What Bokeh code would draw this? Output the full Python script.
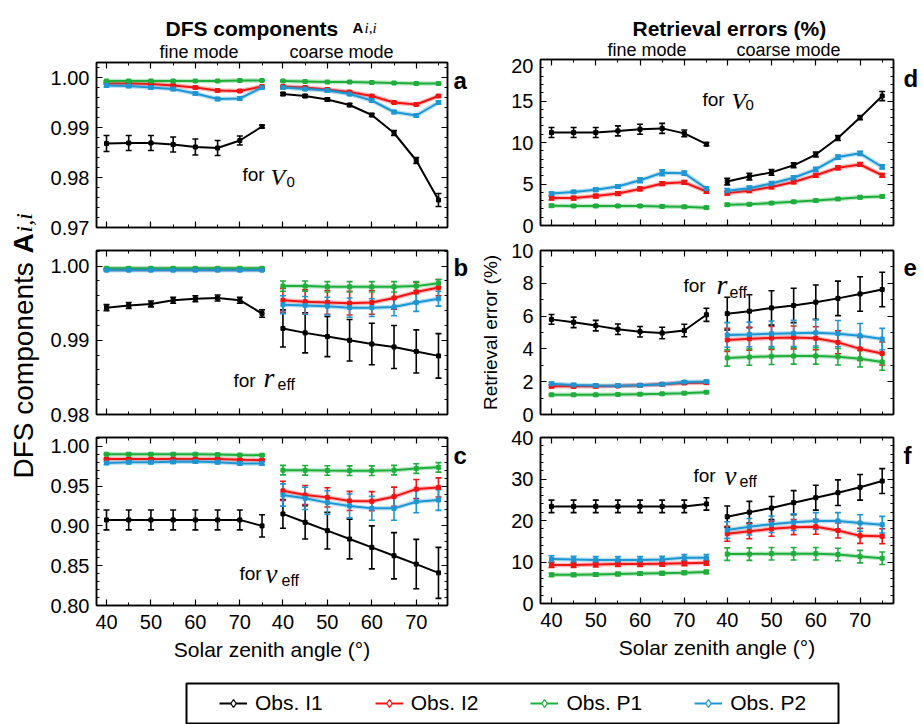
from math import pi
from bokeh.plotting import figure
from bokeh.layouts import row, column
from bokeh.models import (Range1d, FixedTicker, LinearAxis, Label, Whisker, TeeHead,
                          ColumnDataSource, CustomJSTickFormatter, PrintfTickFormatter,
                          Legend, LegendItem)
from bokeh.embed import file_html
from bokeh.resources import INLINE

# ---------------------------------------------------------------- data
SZA = [40, 45, 50, 55, 60, 65, 70, 75]
COARSE_SHIFT = 39.7            # x offset of the coarse-mode block
SERIES = ["Obs. I1", "Obs. I2", "Obs. P1", "Obs. P2"]
COLORS = ["#000000", "#f01414", "#1fae3c", "#1e96d2"]

# panel a : DFS for V0
A_I1_F = [0.9868, 0.9869, 0.9869, 0.9866, 0.9861, 0.9859, 0.9874, 0.9902]
A_I1_F_E = [0.0016, 0.0015, 0.0015, 0.0015, 0.0016, 0.0015, 0.0009, 0.0003]
A_I1_C = [0.9967, 0.9963, 0.9956, 0.9945, 0.9925, 0.9889, 0.9834, 0.9755]
A_I1_C_E = [0.0003, 0.0003, 0.0003, 0.0003, 0.0003, 0.0005, 0.0006, 0.0013]
A_I2_F = [0.9988, 0.9988, 0.9987, 0.9984, 0.9980, 0.9974, 0.9973, 0.9982]
A_I2_C = [0.9982, 0.9980, 0.9976, 0.9971, 0.9963, 0.9950, 0.9946, 0.9963]
A_I2_E = [0.0002] * 8
A_P1_F = [0.9993, 0.9993, 0.9993, 0.9993, 0.9993, 0.9993, 0.9994, 0.9994]
A_P1_C = [0.9993, 0.9992, 0.9991, 0.9991, 0.9990, 0.9989, 0.9988, 0.9988]
A_P1_E = [0.0001] * 8
A_P2_F = [0.9984, 0.9983, 0.9980, 0.9977, 0.9968, 0.9957, 0.9958, 0.9980]
A_P2_C = [0.9980, 0.9977, 0.9974, 0.9967, 0.9954, 0.9931, 0.9924, 0.9950]
A_P2_E = [0.0003] * 8

# panel b : DFS for r_eff
B_I1_F = [0.9944, 0.9947, 0.9949, 0.9954, 0.9956, 0.9957, 0.9954, 0.9936]
B_I1_F_E = [0.0004, 0.0004, 0.0004, 0.0004, 0.0004, 0.0004, 0.0004, 0.0005]
B_I1_C = [0.9916, 0.9910, 0.9905, 0.9900, 0.9895, 0.9891, 0.9885, 0.9879]
B_I1_C_E = [0.0025, 0.0027, 0.0027, 0.0028, 0.0028, 0.0029, 0.0029, 0.0030]
B_I2_F = [0.99955] * 8
B_I2_F_E = [0.0001] * 8
B_I2_C = [0.9954, 0.9952, 0.9951, 0.9950, 0.9951, 0.9957, 0.9965, 0.9971]
B_I2_C_E = [0.0016, 0.0016, 0.0016, 0.0016, 0.0016, 0.0015, 0.0013, 0.0011]
B_P1_F = [0.9997] * 8
B_P1_F_E = [0.0001] * 8
B_P1_C = [0.9973, 0.9973, 0.9972, 0.9972, 0.9972, 0.9972, 0.9973, 0.9977]
B_P1_C_E = [0.0007, 0.0007, 0.0007, 0.0007, 0.0007, 0.0007, 0.0006, 0.0005]
B_P2_F = [0.99945] * 8
B_P2_F_E = [0.0001] * 8
B_P2_C = [0.9948, 0.9947, 0.9946, 0.9944, 0.9944, 0.9945, 0.9951, 0.9956]
B_P2_C_E = [0.0012, 0.0012, 0.0012, 0.0013, 0.0012, 0.0012, 0.0012, 0.0010]

# panel c : DFS for v_eff
C_I1_F = [0.9075, 0.9075, 0.9075, 0.9075, 0.9075, 0.9075, 0.9075, 0.900]
C_I1_F_E = [0.0125, 0.0125, 0.0125, 0.0125, 0.0125, 0.0125, 0.0125, 0.014]
C_I1_C = [0.915, 0.9045, 0.894, 0.8835, 0.873, 0.8625, 0.852, 0.841]
C_I1_C_E = [0.018, 0.021, 0.023, 0.025, 0.027, 0.029, 0.031, 0.032]
C_I2_F = [0.984, 0.984, 0.984, 0.984, 0.984, 0.984, 0.983, 0.9825]
C_I2_F_E = [0.001] * 8
C_I2_C = [0.944, 0.9387, 0.9358, 0.9313, 0.931, 0.9367, 0.9462, 0.9483]
C_I2_C_E = [0.012] * 8
C_P1_F = [0.990, 0.990, 0.990, 0.990, 0.990, 0.9895, 0.989, 0.9888]
C_P1_F_E = [0.001] * 8
C_P1_C = [0.970, 0.9698, 0.9695, 0.9693, 0.9693, 0.970, 0.972, 0.9735]
C_P1_C_E = [0.006] * 8
C_P2_F = [0.979, 0.980, 0.980, 0.9805, 0.981, 0.980, 0.9785, 0.9785]
C_P2_F_E = [0.002] * 8
C_P2_C = [0.9388, 0.9346, 0.9292, 0.925, 0.922, 0.922, 0.9304, 0.9325]
C_P2_C_E = [0.014, 0.014, 0.015, 0.015, 0.015, 0.015, 0.014, 0.013]

# panel d : retrieval error (%) for V0
D_I1_F = [11.2, 11.2, 11.2, 11.4, 11.6, 11.7, 11.1, 9.8]
D_I1_F_E = [0.6, 0.6, 0.6, 0.6, 0.6, 0.6, 0.4, 0.2]
D_I1_C = [5.3, 5.9, 6.4, 7.25, 8.55, 10.55, 13.0, 15.6]
D_I1_C_E = [0.4, 0.4, 0.35, 0.3, 0.3, 0.3, 0.25, 0.55]
D_I2_F = [3.3, 3.3, 3.55, 3.85, 4.4, 5.05, 5.2, 4.1]
D_I2_C = [3.9, 4.2, 4.65, 5.25, 6.05, 6.95, 7.35, 6.05]
D_I2_E = [0.22] * 8
D_P1_F = [2.38, 2.35, 2.35, 2.35, 2.35, 2.3, 2.25, 2.15]
D_P1_C = [2.5, 2.55, 2.7, 2.85, 3.0, 3.2, 3.4, 3.5]
D_P1_E = [0.13] * 8
D_P2_F = [3.85, 4.05, 4.3, 4.7, 5.45, 6.35, 6.3, 4.45]
D_P2_F_E = [0.15, 0.15, 0.2, 0.2, 0.3, 0.35, 0.25, 0.2]
D_P2_C = [4.2, 4.5, 5.05, 5.75, 6.75, 8.25, 8.7, 7.05]
D_P2_C_E = [0.25] * 8

# panel e : retrieval error (%) for r_eff
E_I1_F = [5.8, 5.62, 5.42, 5.2, 5.05, 4.97, 5.12, 6.08]
E_I1_F_E = [0.3, 0.32, 0.32, 0.32, 0.32, 0.35, 0.38, 0.4]
E_I1_C = [6.15, 6.3, 6.5, 6.65, 6.85, 7.08, 7.35, 7.62]
E_I1_C_E = [1.0, 1.0, 1.05, 1.05, 1.05, 1.05, 1.05, 1.05]
E_I2_F = [1.72, 1.72, 1.72, 1.74, 1.78, 1.84, 1.92, 1.94]
E_I2_F_E = [0.08] * 8
E_I2_C = [4.55, 4.62, 4.67, 4.7, 4.65, 4.4, 4.0, 3.72]
E_I2_C_E = [0.7] * 8
E_P1_F = [1.2, 1.2, 1.2, 1.22, 1.24, 1.26, 1.3, 1.36]
E_P1_F_E = [0.05] * 8
E_P1_C = [3.45, 3.5, 3.55, 3.57, 3.57, 3.52, 3.4, 3.2]
E_P1_C_E = [0.5] * 8
E_P2_F = [1.88, 1.8, 1.77, 1.76, 1.78, 1.85, 1.98, 2.0]
E_P2_F_E = [0.08] * 8
E_P2_C = [4.85, 4.88, 4.92, 4.95, 4.98, 4.93, 4.8, 4.6]
E_P2_C_E = [0.75, 0.75, 0.78, 0.8, 0.8, 0.8, 0.75, 0.65]

# panel f : retrieval error (%) for v_eff
F_I1_F = [23.4, 23.4, 23.4, 23.4, 23.4, 23.4, 23.4, 24.0]
F_I1_F_E = [1.5] * 8
F_I1_C = [20.9, 22.0, 23.0, 24.3, 25.5, 26.7, 28.0, 29.5]
F_I1_C_E = [2.6, 2.6, 2.8, 2.9, 3.0, 3.1, 3.1, 3.0]
F_I2_F = [9.3, 9.3, 9.4, 9.5, 9.5, 9.6, 9.7, 9.8]
F_I2_F_E = [0.6] * 8
F_I2_C = [16.8, 17.4, 18.0, 18.4, 18.5, 17.6, 16.3, 16.2]
F_I2_C_E = [1.8] * 8
F_P1_F = [6.9, 6.9, 7.0, 7.1, 7.2, 7.3, 7.4, 7.6]
F_P1_F_E = [0.4] * 8
F_P1_C = [11.9, 11.9, 12.0, 12.0, 12.0, 11.8, 11.3, 10.9]
F_P1_C_E = [1.5] * 8
F_P2_F = [10.7, 10.6, 10.5, 10.5, 10.5, 10.6, 11.0, 11.0]
F_P2_F_E = [0.8] * 8
F_P2_C = [17.7, 18.5, 19.1, 19.6, 19.9, 19.9, 19.4, 19.0]
F_P2_C_E = [2.0] * 8

# y tick definitions
A_TICKS = [0.97, 0.98, 0.99, 1.00]
B_TICKS = [0.98, 0.99, 1.00]
C_TICKS = [0.80, 0.85, 0.90, 0.95, 1.00]
D_TICKS = [0, 5, 10, 15, 20]
E_TICKS = [0, 2, 4, 6, 8, 10]
F_TICKS = [0, 10, 20, 30, 40]

PANEL_DATA = {
    "a": [(A_I1_F, A_I1_F_E, A_I1_C, A_I1_C_E), (A_I2_F, A_I2_E, A_I2_C, A_I2_E),
          (A_P1_F, A_P1_E, A_P1_C, A_P1_E), (A_P2_F, A_P2_E, A_P2_C, A_P2_E)],
    "b": [(B_I1_F, B_I1_F_E, B_I1_C, B_I1_C_E), (B_I2_F, B_I2_F_E, B_I2_C, B_I2_C_E),
          (B_P1_F, B_P1_F_E, B_P1_C, B_P1_C_E), (B_P2_F, B_P2_F_E, B_P2_C, B_P2_C_E)],
    "c": [(C_I1_F, C_I1_F_E, C_I1_C, C_I1_C_E), (C_I2_F, C_I2_F_E, C_I2_C, C_I2_C_E),
          (C_P1_F, C_P1_F_E, C_P1_C, C_P1_C_E), (C_P2_F, C_P2_F_E, C_P2_C, C_P2_C_E)],
    "d": [(D_I1_F, D_I1_F_E, D_I1_C, D_I1_C_E), (D_I2_F, D_I2_E, D_I2_C, D_I2_E),
          (D_P1_F, D_P1_E, D_P1_C, D_P1_E), (D_P2_F, D_P2_F_E, D_P2_C, D_P2_C_E)],
    "e": [(E_I1_F, E_I1_F_E, E_I1_C, E_I1_C_E), (E_I2_F, E_I2_F_E, E_I2_C, E_I2_C_E),
          (E_P1_F, E_P1_F_E, E_P1_C, E_P1_C_E), (E_P2_F, E_P2_F_E, E_P2_C, E_P2_C_E)],
    "f": [(F_I1_F, F_I1_F_E, F_I1_C, F_I1_C_E), (F_I2_F, F_I2_F_E, F_I2_C, F_I2_C_E),
          (F_P1_F, F_P1_F_E, F_P1_C, F_P1_C_E), (F_P2_F, F_P2_F_E, F_P2_C, F_P2_C_E)],
}

SANS = "Liberation Sans"
SERIF = "Liberation Serif"

# ---------------------------------------------------------------- layout geometry
HEADER_L_H = 60
HEADER_R_H = 58
BODY_H = 672
LEGEND_H = 52
LEFT_X = (37.75, 116.73)
RIGHT_X = (37.52, 117.25)
GEOM = {
    "a": dict(fw=411, fh=178, L=56, R=4, T=2, B=11, ax=96, ay=62, yr=(0.97, 1.003), xr=LEFT_X,
              ticks=A_TICKS, minor=0.002, fmt="%.2f"),
    "b": dict(fw=411, fh=187, L=56, R=4, T=12, B=11, ax=96, ay=250, yr=(0.98, 1.0021), xr=LEFT_X,
              ticks=B_TICKS, minor=0.002, fmt="%.2f"),
    "c": dict(fw=411, fh=247, L=56, R=4, T=12, B=67, ax=96, ay=437, yr=(0.80, 1.011), xr=LEFT_X,
              ticks=C_TICKS, minor=0.01, fmt="%.2f"),
    "d": dict(fw=425, fh=180, L=68, R=4, T=1, B=13, ax=540, ay=59, yr=(0, 20), xr=RIGHT_X,
              ticks=D_TICKS, minor=1, fmt="%d"),
    "e": dict(fw=425, fh=187, L=68, R=4, T=12, B=11, ax=540, ay=250, yr=(0, 10), xr=RIGHT_X,
              ticks=E_TICKS, minor=1, fmt="%d"),
    "f": dict(fw=425, fh=247, L=68, R=4, T=12, B=69, ax=540, ay=437, yr=(0, 40), xr=RIGHT_X,
              ticks=F_TICKS, minor=2, fmt="%d"),
}


def to_data(g, px, py):
    W = g["fw"] - g["L"] - g["R"]
    H = g["fh"] - g["T"] - g["B"]
    x0, x1 = g["xr"]
    y0, y1 = g["yr"]
    return (x0 + (px - g["ax"]) / W * (x1 - x0), y1 - (py - g["ay"]) / H * (y1 - y0))


def add_text(p, g, px, py, text, size, font=SANS, style="normal", align="left"):
    x, y = to_data(g, px, py)
    p.add_layout(Label(x=x, y=y, text=text, text_font=font, text_font_size=f"{size}px",
                       text_font_style=style, text_baseline="alphabetic", text_align=align,
                       text_color="black"))


COARSE_X = [s + COARSE_SHIFT for s in SZA]
X_MAJOR = [40, 50, 60, 70] + [v + COARSE_SHIFT for v in [40, 50, 60, 70]]
X_MINOR = [45, 55, 65, 75] + [v + COARSE_SHIFT for v in [45, 55, 65, 75]]


def hide_labels(ax):
    ax.major_label_text_color = None
    ax.major_label_text_font_size = "1px"
    ax.major_label_standoff = 0


def make_panel(key, show_x_labels=False, ylabel=None):
    g = GEOM[key]
    p = figure(width=g["fw"], height=g["fh"], x_range=Range1d(*g["xr"]), y_range=Range1d(*g["yr"]),
               output_backend="svg", toolbar_location=None,
               min_border_left=g["L"], min_border_right=g["R"],
               min_border_top=g["T"], min_border_bottom=g["B"])
    p.add_layout(LinearAxis(), "above")
    p.add_layout(LinearAxis(), "right")
    p.grid.visible = False
    p.outline_line_color = "black"
    p.outline_line_width = 1.5
    y0, y1 = g["yr"]
    nmin = int(round((y1 - g["ticks"][0]) / g["minor"])) + 1
    ymin = [round(g["ticks"][0] + i * g["minor"], 5) for i in range(nmin)]
    xt = FixedTicker(ticks=X_MAJOR, minor_ticks=X_MINOR)
    yt = FixedTicker(ticks=g["ticks"], minor_ticks=ymin)
    for ax in p.xaxis:
        ax.ticker = xt
        ax.formatter = CustomJSTickFormatter(
            args=dict(shift=COARSE_SHIFT),
            code="var t = tick > 77 ? tick - shift : tick; return Math.round(t).toString();")
    for ax in p.yaxis:
        ax.ticker = yt
        ax.formatter = PrintfTickFormatter(format=g["fmt"])
    for ax in list(p.xaxis) + list(p.yaxis):
        ax.axis_line_color = "black"
        ax.axis_line_width = 1.5
        ax.major_tick_in = 6
        ax.major_tick_out = 0
        ax.minor_tick_in = 3
        ax.minor_tick_out = 0
        ax.major_tick_line_width = 1.2
        ax.minor_tick_line_width = 1.0
        ax.major_label_text_font = SANS
        ax.major_label_text_font_size = "20px"
        ax.major_label_text_color = "black"
        ax.major_label_standoff = 7
    hide_labels(p.above[0])
    hide_labels(p.right[0])
    if not show_x_labels:
        hide_labels(p.below[0])
    else:
        ax = p.below[0]
        ax.major_label_standoff = 9
        ax.axis_label = "Solar zenith angle (°)"
        ax.axis_label_text_font = SANS
        ax.axis_label_text_font_size = "21px"
        ax.axis_label_text_font_style = "normal"
        ax.axis_label_text_color = "black"
        ax.axis_label_standoff = 6
    if ylabel:
        ax = p.left[0]
        ax.axis_label = ylabel
        ax.axis_label_text_font = SANS
        ax.axis_label_text_font_size = "19px"
        ax.axis_label_text_font_style = "normal"
        ax.axis_label_text_color = "black"
        ax.axis_label_standoff = 7

    for (fv, fe, cv, ce), color in zip(PANEL_DATA[key], COLORS):
        for xs, vals, errs in ((SZA, fv, fe), (COARSE_X, cv, ce)):
            src = ColumnDataSource(dict(x=xs, y=vals,
                                        lo=[v - e for v, e in zip(vals, errs)],
                                        hi=[v + e for v, e in zip(vals, errs)]))
            p.add_layout(Whisker(source=src, base="x", lower="lo", upper="hi",
                                 line_color=color, line_width=1.6,
                                 upper_head=TeeHead(size=6, line_color=color, line_width=1.6),
                                 lower_head=TeeHead(size=6, line_color=color, line_width=1.6)))
            if color != "#000000":
                p.line("x", "y", source=src, line_color=color, line_width=4.5, line_alpha=0.3)
            p.line("x", "y", source=src, line_color=color, line_width=2)
            p.scatter("x", "y", source=src, marker="square", size=4, color=color)
    return p


fa = make_panel("a")
fb = make_panel("b")
fc = make_panel("c", show_x_labels=True)
fd = make_panel("d")
fe = make_panel("e", ylabel="Retrieval error (%)")
ff = make_panel("f", show_x_labels=True)

ga, gb, gc, gd, ge, gf = (GEOM[k] for k in "abcdef")
# "for ..." annotations inside the frames
add_text(fa, ga, 242, 174, "for", 19)
add_text(fa, ga, 270, 176, "V", 24, font=SERIF, style="italic")
add_text(fa, ga, 286, 181, "0", 15)
add_text(fd, gd, 702, 99, "for", 19)
add_text(fd, gd, 731, 100, "V", 24, font=SERIF, style="italic")
add_text(fd, gd, 745, 104, "0", 15)
add_text(fb, gb, 233, 380, "for", 19)
add_text(fb, gb, 263, 377, "r", 28, font=SERIF, style="italic")
add_text(fb, gb, 277, 384, "eff", 16)
add_text(fe, ge, 683, 285, "for", 19)
add_text(fe, ge, 716, 284, "r", 28, font=SERIF, style="italic")
add_text(fe, ge, 729, 292, "eff", 16)
add_text(fc, gc, 239, 573, "for", 19)
add_text(fc, gc, 265, 573, "ν", 27, font=SERIF, style="italic")
add_text(fc, gc, 281, 580, "eff", 16)
add_text(ff, gf, 693, 475, "for", 19)
add_text(ff, gf, 724, 475, "ν", 27, font=SERIF, style="italic")
add_text(ff, gf, 739, 481, "eff", 16)


# ---------------------------------------------------------------- text strips
def strip(width, height, x0, x1, left=0, right=0):
    """Text-only figure; data x = absolute page px, data y = height - page px."""
    s = figure(width=width, height=height, x_range=Range1d(x0, x1), y_range=Range1d(0, height),
               output_backend="svg", toolbar_location=None, x_axis_type=None, y_axis_type=None,
               min_border=0, min_border_left=left, min_border_right=right, min_border_top=0,
               min_border_bottom=0, outline_line_color=None)
    s.grid.visible = False
    return s


def strip_text(s, px, py, text, size, font=SANS, style="normal", angle=0.0,
               baseline="alphabetic"):
    s.add_layout(Label(x=px, y=s.height - py, text=text, angle=angle,
                       text_font=font, text_font_size=f"{size}px", text_font_style=style,
                       text_baseline=baseline, text_align="left", text_color="black"))


# column headers (frames aligned with the panel frames below them)
hdr_l = strip(411, HEADER_L_H, 96, 447, left=56, right=4)
strip_text(hdr_l, 165, 28, "DFS components", 21, style="bold")
strip_text(hdr_l, 352, 27, "A", 15, style="bold")
strip_text(hdr_l, 364, 27, "i,i", 15, font=SERIF, style="italic")
strip_text(hdr_l, 159, 51, "fine mode", 18)
strip_text(hdr_l, 289, 51, "coarse mode", 18)
hdr_r = strip(425, HEADER_R_H, 540, 893, left=68, right=4)
strip_text(hdr_r, 632, 28, "Retrieval errors (%)", 21, style="bold")
strip_text(hdr_r, 607, 49, "fine mode", 18)
strip_text(hdr_r, 736, 49, "coarse mode", 18)

# left y label (rotated, mixed fonts)
yl = strip(40, BODY_H, 0, 40)
for txt, py, size, font, style in (("DFS components", 478, 28, SANS, "normal"),
                                   ("A", 253, 28, SANS, "bold"),
                                   ("i,i", 232, 24, SERIF, "italic")):
    strip_text(yl, 23, py, txt, size, font=font, style=style, angle=pi / 2, baseline="middle")

# panel letters
let_l = strip(21, BODY_H, 451, 472)
let_r = strip(26, BODY_H, 897, 923)
for letter, py in (("a", 80), ("b", 267), ("c", 455)):
    strip_text(let_l, 453, py, letter, 24, style="bold")
for letter, py in (("d", 78), ("e", 267), ("f", 455)):
    strip_text(let_r, 903, py, letter, 24, style="bold")

# ---------------------------------------------------------------- legend strip
lf = figure(width=923, height=LEGEND_H, x_range=Range1d(0, 1), y_range=Range1d(0, 1),
            output_backend="svg", toolbar_location=None, x_axis_type=None, y_axis_type=None,
            min_border_left=186, min_border_right=85, min_border_top=11, min_border_bottom=1,
            outline_line_color="black", outline_line_width=2)
lf.grid.visible = False
NAN = float("nan")
items = []
for name, color in zip(SERIES, COLORS):
    r1 = lf.line(x=[NAN], y=[NAN], line_color=color, line_width=2)
    r2 = lf.scatter(x=[NAN], y=[NAN], marker="diamond", size=8, line_color=color,
                    fill_color="white", line_width=1.3)
    items.append(LegendItem(label=name, renderers=[r1, r2]))
legend = Legend(items=items, orientation="horizontal", location=(25, 0), padding=8, spacing=52,
                margin=0, border_line_alpha=0, background_fill_alpha=0, glyph_width=28,
                glyph_height=20, label_standoff=8, label_text_font=SANS,
                label_text_font_size="21px", label_text_color="black")
lf.add_layout(legend)

body = row(yl, column(hdr_l, fa, fb, fc), let_l, column(hdr_r, fd, fe, ff), let_r)
layout = column(body, lf)
open("out.html", "w").write(file_html(layout, INLINE))
